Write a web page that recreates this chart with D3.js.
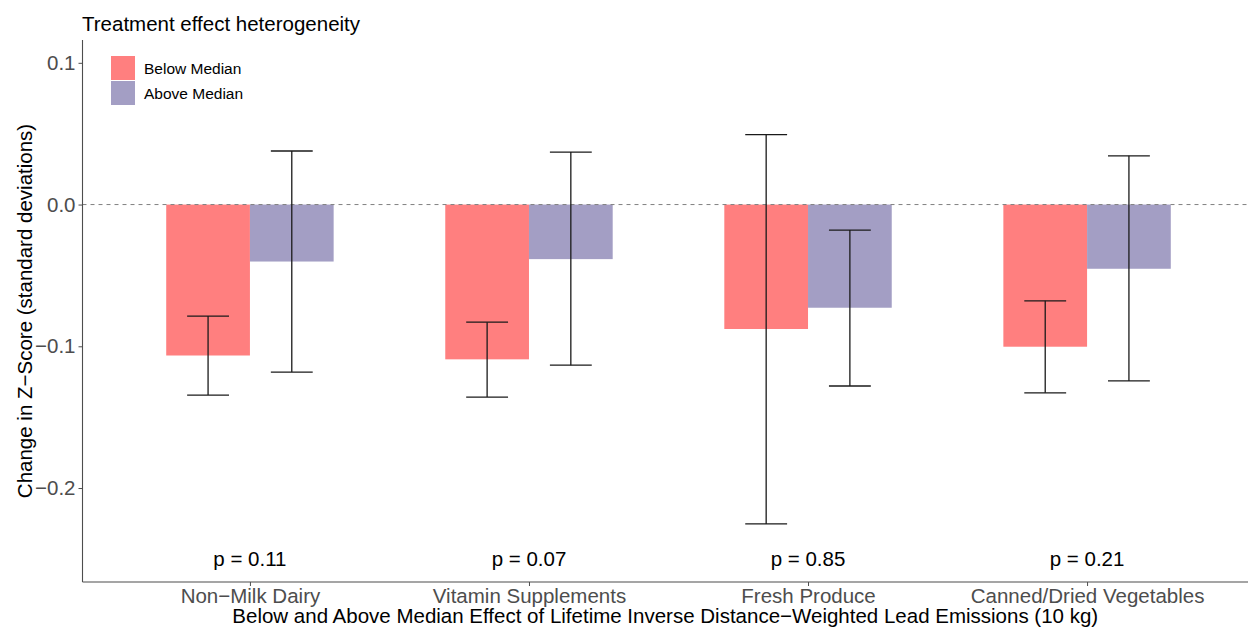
<!DOCTYPE html>
<html>
<head>
<meta charset="utf-8">
<script src="https://cdn.jsdelivr.net/npm/d3@7"></script>
<style>
  html, body { margin: 0; padding: 0; background: #fff; }
  text { font-family: "Liberation Sans", Arial, sans-serif; }
</style>
</head>
<body>
<svg id="chart" width="1248" height="627"></svg>
<script>
// Food categories on the x axis
const categories = ["Non\u2212Milk Dairy", "Vitamin Supplements", "Fresh Produce", "Canned/Dried Vegetables"];
const groups = ["Below Median", "Above Median"];

// Point estimates per group
const belowEstimate = [-0.1065, -0.1092, -0.0878, -0.1003];
const aboveEstimate = [-0.0402, -0.0385, -0.0728, -0.0453];

// Confidence interval bounds
const belowLower = [-0.1344, -0.1358, -0.2253, -0.1328];
const belowUpper = [-0.0787, -0.0830, 0.0493, -0.0679];
const aboveLower = [-0.1182, -0.1133, -0.1280, -0.1244];
const aboveUpper = [0.0378, 0.0370, -0.0180, 0.0344];

// Interaction p-values
const pValues = ["p = 0.11", "p = 0.07", "p = 0.85", "p = 0.21"];

const yTicks = [0.1, 0.0, -0.1, -0.2];
const colors = { "Below Median": "#FF7F7F", "Above Median": "#A39EC4" };

const rows = [];
categories.forEach((c, i) => {
  rows.push({ cat: c, group: groups[0], est: belowEstimate[i], lo: belowLower[i], hi: belowUpper[i] });
  rows.push({ cat: c, group: groups[1], est: aboveEstimate[i], lo: aboveLower[i], hi: aboveUpper[i] });
});

const svg = d3.select("#chart");
// Panel extends slightly past the right edge of the canvas
const panel = { left: 82.5, right: 1254.5, top: 40, bottom: 582 };
const fs = 20.5;

const y = d3.scaleLinear().domain([-0.2663, 0.1161]).range([panel.bottom, panel.top]);

// Discrete x positions: evenly spaced centers with 0.6 unit expansion on each side
const x = d3.scalePoint().domain(categories)
  .range([panel.left, panel.right]).padding(0.6);
const unit = x.step();
const xg = d3.scaleBand().domain(groups).range([-0.3 * unit, 0.3 * unit]);

// Bars
svg.append("g").selectAll("rect").data(rows).join("rect")
  .attr("x", d => x(d.cat) + xg(d.group))
  .attr("width", xg.bandwidth())
  .attr("y", d => Math.min(y(d.est), y(0)))
  .attr("height", d => Math.abs(y(d.est) - y(0)))
  .attr("fill", d => colors[d.group]);

// Zero reference line
svg.append("line")
  .attr("x1", panel.left).attr("x2", panel.right)
  .attr("y1", y(0)).attr("y2", y(0))
  .attr("stroke", "#808080").attr("stroke-width", 1)
  .attr("stroke-dasharray", "4,4");

// Error bars
const eb = svg.append("g").selectAll("g").data(rows).join("g")
  .attr("stroke", "#1a1a1a").attr("stroke-width", 1.3);
const cx = d => x(d.cat) + xg(d.group) + xg.bandwidth() / 2;
const capHalf = xg.bandwidth() / 4;
eb.append("line").attr("x1", cx).attr("x2", cx).attr("y1", d => y(d.lo)).attr("y2", d => y(d.hi));
eb.append("line").attr("x1", d => cx(d) - capHalf).attr("x2", d => cx(d) + capHalf)
  .attr("y1", d => y(d.lo)).attr("y2", d => y(d.lo));
eb.append("line").attr("x1", d => cx(d) - capHalf).attr("x2", d => cx(d) + capHalf)
  .attr("y1", d => y(d.hi)).attr("y2", d => y(d.hi));

// p-value annotations
svg.append("g").selectAll("text").data(categories).join("text")
  .attr("x", d => x(d)).attr("y", 566)
  .attr("text-anchor", "middle").attr("font-size", fs).attr("fill", "#000")
  .text((d, i) => pValues[i]);

// Axes
const yAxis = d3.axisLeft(y).tickValues(yTicks).tickSize(4).tickPadding(3)
  .tickFormat(d => d3.format(".1f")(d).replace("-", "\u2212"));
const gy = svg.append("g").attr("transform", `translate(${panel.left},0)`).call(yAxis);
gy.select(".domain").attr("stroke", "#4D4D4D").attr("stroke-width", 1.1)
  .attr("d", `M0,${panel.top}V${panel.bottom}`);
gy.selectAll(".tick line").attr("stroke", "#4D4D4D");
gy.selectAll(".tick text").attr("font-size", fs).attr("fill", "#4D4D4D")
  .attr("font-family", "Liberation Sans, Arial, sans-serif");

const xAxis = d3.axisBottom(x).tickSize(4).tickPadding(3);
const gx = svg.append("g").attr("transform", `translate(0,${panel.bottom})`).call(xAxis);
gx.select(".domain").attr("stroke", "#4D4D4D").attr("stroke-width", 1.1)
  .attr("d", `M${panel.left},0H${panel.right}`);
gx.selectAll(".tick line").attr("stroke", "#4D4D4D");
gx.selectAll(".tick text").attr("font-size", fs).attr("fill", "#4D4D4D")
  .attr("font-family", "Liberation Sans, Arial, sans-serif")
  .attr("dy", null).attr("y", 20.5);

// Axis titles
svg.append("text").attr("x", (panel.left + 1248) / 2).attr("y", 623)
  .attr("text-anchor", "middle").attr("font-size", fs).attr("fill", "#000")
  .text("Below and Above Median Effect of Lifetime Inverse Distance\u2212Weighted Lead Emissions (10 kg)");
svg.append("text").attr("transform", `translate(32,${(panel.top + panel.bottom) / 2}) rotate(-90)`)
  .attr("text-anchor", "middle").attr("font-size", fs).attr("fill", "#000")
  .text("Change in Z\u2212Score (standard deviations)");

// Title
svg.append("text").attr("x", 82).attr("y", 31).attr("font-size", fs).attr("fill", "#000")
  .text("Treatment effect heterogeneity");

// Legend
const lg = svg.append("g").attr("transform", "translate(111,56)");
groups.forEach((g, i) => {
  lg.append("rect").attr("x", 0).attr("y", i * 25).attr("width", 24).attr("height", 24).attr("fill", colors[g]);
  lg.append("text").attr("x", 33).attr("y", i * 25 + 18).attr("font-size", 15.5).attr("fill", "#000").text(g);
});
</script>
</body>
</html>
